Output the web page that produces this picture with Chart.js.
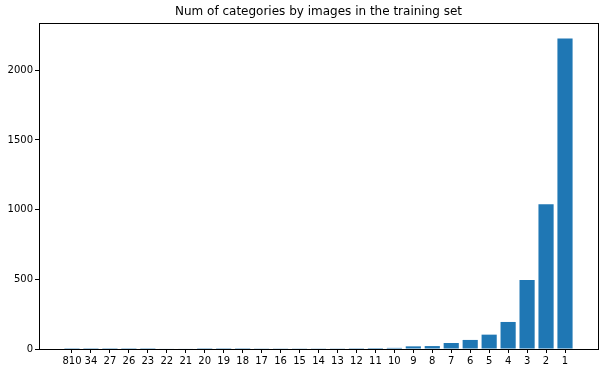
<!DOCTYPE html>
<html>
<head>
<meta charset="utf-8">
<script src="https://cdn.jsdelivr.net/npm/chart.js@4/dist/chart.umd.min.js"></script>
<style>
    html, body { margin: 0; padding: 0; background: #fff; }
    #wrap { width: 608px; height: 373px; }
</style>
</head>
<body>
<div id="wrap"><canvas id="chart"></canvas></div>
<script>
// number of images per category -> how many categories have it
const categories = ['810', '34', '27', '26', '23', '22', '21', '20', '19', '18', '17', '16', '15', '14',
    '13', '12', '11', '10', '9', '8', '7', '6', '5', '4', '3', '2', '1'];
const counts = [1, 1, 1, 1, 1, 4, 4, 1, 1, 1, 5, 5, 5, 5,
    5, 6, 7, 8, 19, 21, 43, 65, 103, 194, 495, 1039, 2227];
const yTicks = [0, 500, 1000, 1500, 2000];
const yMax = 2339;

// matplotlib-like full frame round the plot area
const frame = {
    id: 'frame',
    afterDraw(chart) {
        const { ctx, chartArea: a } = chart;
        ctx.save();
        ctx.strokeStyle = '#000';
        ctx.lineWidth = 1;
        ctx.strokeRect(Math.round(a.left) + 0.5, Math.round(a.top) + 0.5,
            Math.round(a.right - a.left), Math.round(a.bottom - a.top));
        ctx.restore();
    }
};

const font = { family: 'DejaVu Sans', size: 10 };

new Chart(document.getElementById('chart'), {
    type: 'bar',
    data: {
        datasets: [{
            data: counts.map((v, i) => ({ x: i, y: v })),
            backgroundColor: '#1f77b4',
            borderWidth: 0,
            barPercentage: 0.8,
            categoryPercentage: 1
        }]
    },
    options: {
        responsive: true,
        maintainAspectRatio: false,
        animation: false,
        layout: { padding: { left: 0, right: 10, top: 0, bottom: 0 } },
        plugins: {
            legend: { display: false },
            tooltip: { enabled: false },
            title: {
                display: true,
                text: 'Num of categories by images in the training set',
                color: '#000',
                fullSize: false,
                font: { family: 'DejaVu Sans', size: 12, weight: 'normal' },
                padding: { top: 5, bottom: 3.6 }
            }
        },
        scales: {
            x: {
                type: 'linear',
                min: -1.74,
                max: 27.74,
                offset: false,
                afterBuildTicks: (scale) => {
                    scale.ticks = categories.map((_, i) => ({ value: i }));
                },
                afterFit: (scale) => { scale.height = 24; },
                grid: { drawOnChartArea: false, offset: false, tickLength: 4, color: '#000' },
                border: { display: true, color: '#000', width: 1 },
                ticks: {
                    autoSkip: false,
                    maxRotation: 0,
                    padding: 2,
                    color: '#000',
                    font: font,
                    callback: (v) => categories[v]
                }
            },
            y: {
                min: 0,
                max: yMax,
                afterBuildTicks: (scale) => {
                    scale.ticks = yTicks.map(v => ({ value: v }));
                },
                afterFit: (scale) => { scale.width = 39; },
                grid: { drawOnChartArea: false, tickLength: 4, color: '#000' },
                border: { display: true, color: '#000', width: 1 },
                ticks: { padding: 2, color: '#000', font: font, callback: (v) => String(v) }
            }
        }
    },
    plugins: [frame]
});
</script>
</body>
</html>
